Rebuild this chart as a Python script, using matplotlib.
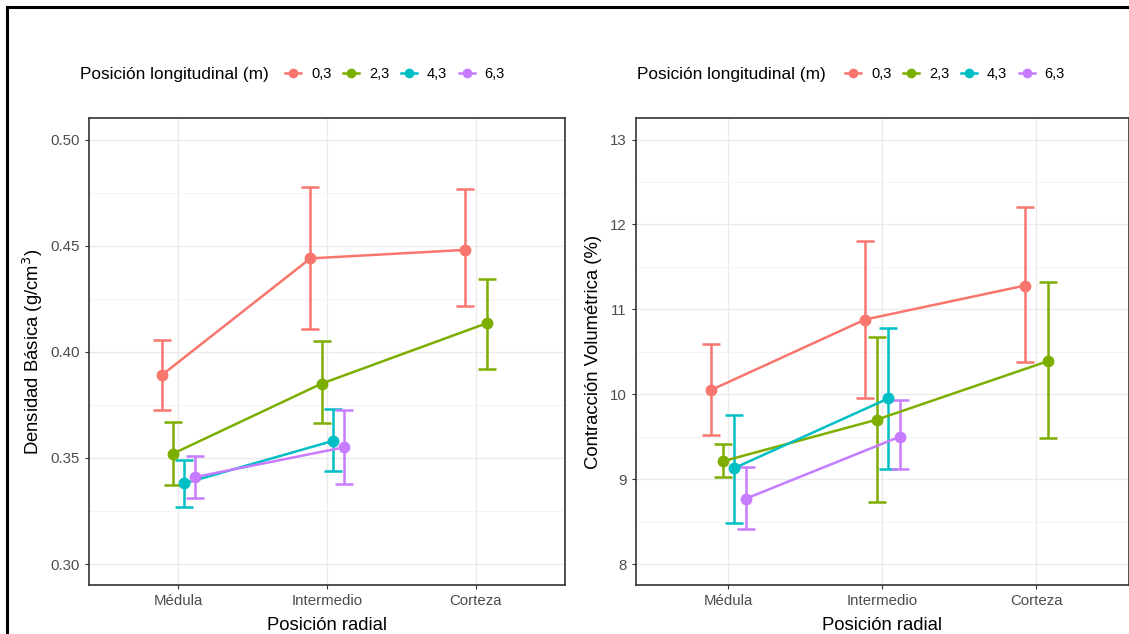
import numpy as np
import matplotlib.pyplot as plt
from matplotlib.lines import Line2D

plt.rcParams["font.family"] = ["Liberation Sans", "DejaVu Sans"]

# --------------------
# Data
# --------------------
radial = ["Médula", "Intermedio", "Corteza"]
longitudinal = ["0,3", "2,3", "4,3", "6,3"]
colors = ["#F8766D", "#7CAE00", "#00BFC4", "#C77CFF"]

# Densidad básica (g/cm3): one row per longitudinal position, None = no sample
dens_mean = [[0.389, 0.444, 0.448],
             [0.352, 0.385, 0.4135],
             [0.338, 0.358, None],
             [0.341, 0.355, None]]
dens_low = [[0.3726, 0.4107, 0.4214],
            [0.3371, 0.3665, 0.392],
            [0.327, 0.3437, None],
            [0.3313, 0.3377, None]]
dens_high = [[0.4055, 0.4776, 0.4766],
             [0.3668, 0.4049, 0.4344],
             [0.3491, 0.3731, None],
             [0.3511, 0.3726, None]]

# Contracción volumétrica (%)
cv_mean = [[10.05, 10.88, 11.28],
           [9.21, 9.70, 10.39],
           [9.13, 9.95, None],
           [8.77, 9.50, None]]
cv_low = [[9.52, 9.95, 10.38],
          [9.03, 8.73, 9.49],
          [8.48, 9.12, None],
          [8.41, 9.12, None]]
cv_high = [[10.59, 11.81, 12.20],
           [9.41, 10.67, 11.32],
           [9.76, 10.78, None],
           [9.14, 9.93, None]]

dens_ticks = [0.30, 0.35, 0.40, 0.45, 0.50]
cv_ticks = [8, 9, 10, 11, 12, 13]

# --------------------
# Figure setup (pixel layout)
# --------------------
W, H = 1129, 634
fig = plt.figure(figsize=(W / 100, H / 100), dpi=100)
fig.patch.set_facecolor("white")


def px_axes(x0, x1, y0, y1):
    return fig.add_axes([x0 / W, 1 - y1 / H, (x1 - x0) / W, (y1 - y0) / H])


DODGE = 0.3
TXT = "#4D4D4D"
FRAME = "#333333"


def draw_panel(ax, means, lows, highs, ticks, ylabel, fmt, ylab_x):
    x = np.arange(1, len(radial) + 1)
    for gi in range(len(longitudinal)):
        xs, ys, lo, hi = [], [], [], []
        for j in range(len(radial)):
            if means[gi][j] is None:
                continue
            present = [k for k in range(len(longitudinal)) if means[k][j] is not None]
            n = len(present)
            off = (present.index(gi) - (n - 1) / 2) * DODGE / n
            xs.append(x[j] + off)
            ys.append(means[gi][j])
            lo.append(means[gi][j] - lows[gi][j])
            hi.append(highs[gi][j] - means[gi][j])
        ax.errorbar(xs, ys, yerr=[lo, hi], color=colors[gi], lw=1.8,
                    elinewidth=1.8, capsize=6.3, capthick=1.8,
                    marker="o", ms=7.5, zorder=3)

    # scale limits with 5% expansion, discrete x with 0.6 padding
    span = ticks[-1] - ticks[0]
    ax.set_ylim(ticks[0] - 0.05 * span, ticks[-1] + 0.05 * span)
    ax.set_xlim(0.4, len(radial) + 0.6)

    ax.set_xticks(x)
    ax.set_xticklabels(radial)
    ax.set_yticks(ticks)
    ax.set_yticklabels([fmt.format(t) for t in ticks])
    mids = [(a + b) / 2 for a, b in zip(ticks[:-1], ticks[1:])]
    ax.set_yticks(mids, minor=True)

    ax.grid(True, which="major", color="#EBEBEB", lw=1.0)
    ax.grid(True, which="minor", axis="y", color="#F2F2F2", lw=0.6)
    ax.set_axisbelow(True)

    ax.tick_params(axis="both", which="major", length=2.75, width=0.8,
                   color=FRAME, labelcolor=TXT, labelsize=10.8)
    ax.tick_params(axis="y", pad=4.2)
    ax.tick_params(axis="x", pad=3.6)
    ax.tick_params(axis="y", which="minor", length=0)
    for sp in ax.spines.values():
        sp.set_color(FRAME)
        sp.set_linewidth(1.2)

    ax.set_xlabel("Posición radial", fontsize=13.3, color="black")
    ax.xaxis.label.set_va("center")
    ax.xaxis.set_label_coords(0.5, (585.3 - 625) / 467)
    ax.set_ylabel(ylabel, fontsize=13.3, color="black")
    ax.yaxis.label.set_va("center")
    ax.yaxis.set_label_coords(ylab_x, 0.5)


def draw_legend(ax, title_x, key_x):
    y = 1 - 74 / H
    fig.text(title_x / W, y, "Posición longitudinal (m)", fontsize=12.4,
             color="black", ha="left", va="center")
    handles = [Line2D([], [], color=c, lw=1.8, marker="o", ms=6)
               for c in colors]
    fig.legend(handles, longitudinal, loc="center left",
               bbox_to_anchor=(key_x / W, y), ncol=4, frameon=False,
               fontsize=10.5, labelcolor="black", handlelength=1.1,
               handletextpad=0.68, columnspacing=0.8, borderpad=0,
               borderaxespad=0)


ax1 = px_axes(89.3, 565, 118.3, 585.3)
ax2 = px_axes(636, 1128.8, 118.3, 585.3)

draw_panel(ax1, dens_mean, dens_low, dens_high, dens_ticks,
           "Densidad Básica (g/cm$^3$)", "{:.2f}", (33 - 89.3) / 475.7)
draw_panel(ax2, cv_mean, cv_low, cv_high, cv_ticks,
           "Contracción Volumétrica (%)", "{:d}", (593 - 636) / 492.8)

draw_legend(ax1, 80, 285)
draw_legend(ax2, 636.7, 845)

# outer frame
fig.add_artist(Line2D([7 / W, 7 / W], [0, 1 - 7 / H], color="black", lw=2.2,
                      transform=fig.transFigure))
fig.add_artist(Line2D([7 / W, 1], [1 - 7 / H, 1 - 7 / H], color="black", lw=2.2,
                      transform=fig.transFigure))

fig.savefig("out.png", dpi=100)
